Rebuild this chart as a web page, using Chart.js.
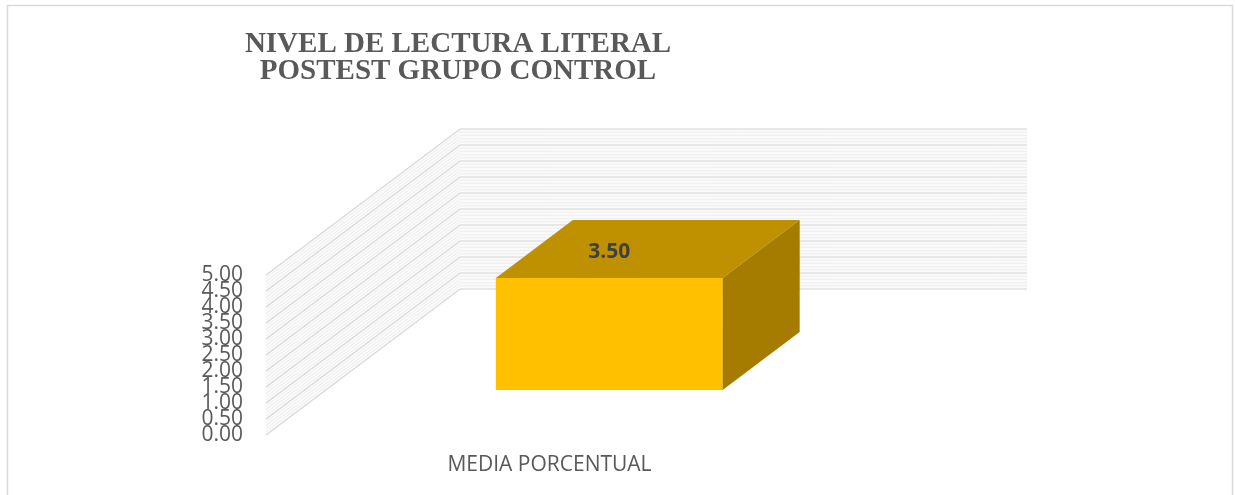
<!DOCTYPE html>
<html>
<head>
<meta charset="utf-8">
<script src="https://cdn.jsdelivr.net/npm/chart.js@4.4.1/dist/chart.umd.min.js"></script>
<style>
  html, body { margin: 0; padding: 0; background: #fff; }
  #wrap { position: relative; width: 1235px; height: 495px; }
</style>
</head>
<body>
<div id="wrap"><canvas id="chart" width="1235" height="495"></canvas></div>
<script>
// chart data
const titleLines = ['NIVEL DE LECTURA LITERAL', 'POSTEST GRUPO CONTROL'];
const categories = ['MEDIA PORCENTUAL'];
const values = [3.5];
const yTicks = [0, 0.5, 1, 1.5, 2, 2.5, 3, 3.5, 4, 4.5, 5];

// 3d look (depth of walls and where the bar sits in it)
const WALL_DX = 194, WALL_DY = -146;
const BAR_FRONT = 0.308, BAR_DEPTH = 0.397;
const GREY = '#595959';

const threeD = {
  id: 'threeD',
  beforeDraw(chart) {
    const ctx = chart.ctx;
    // outer border
    ctx.save();
    ctx.strokeStyle = '#d9d9d9';
    ctx.lineWidth = 1.5;
    ctx.strokeRect(7.5, 5.5, 1225, 500);
    // title
    ctx.fillStyle = GREY;
    ctx.font = 'bold 29px "Liberation Serif", "Times New Roman", serif';
    ctx.textAlign = 'center';
    ctx.textBaseline = 'alphabetic';
    ctx.fillText(titleLines[0], 458, 52);
    ctx.fillText(titleLines[1], 458, 79);
    ctx.restore();
  },
  beforeDatasetsDraw(chart) {
    const ctx = chart.ctx;
    const { left, right } = chart.chartArea;
    const ys = chart.scales.y;
    const y0 = ys.getPixelForValue(0), y5 = ys.getPixelForValue(5);
    ctx.save();
    // wall fill
    ctx.fillStyle = '#fafafa';
    ctx.beginPath();
    ctx.moveTo(left, y5);
    ctx.lineTo(left + WALL_DX, y5 + WALL_DY);
    ctx.lineTo(right + WALL_DX, y5 + WALL_DY);
    ctx.lineTo(right + WALL_DX, y0 + WALL_DY);
    ctx.lineTo(left + WALL_DX, y0 + WALL_DY);
    ctx.lineTo(left, y0);
    ctx.closePath();
    ctx.fill();
    // faint minor lines
    ctx.strokeStyle = '#ebebeb';
    ctx.lineWidth = 0.8;
    for (let v = 0; v <= 5.0001; v += 0.1) {
      const y = ys.getPixelForValue(v);
      ctx.beginPath();
      ctx.moveTo(left, y);
      ctx.lineTo(left + WALL_DX, y + WALL_DY);
      ctx.lineTo(right + WALL_DX, y + WALL_DY);
      ctx.stroke();
    }
    // major grid lines
    ctx.strokeStyle = '#d9d9d9';
    ctx.lineWidth = 1.2;
    yTicks.forEach(v => {
      const y = ys.getPixelForValue(v);
      ctx.beginPath();
      ctx.moveTo(left, y);
      ctx.lineTo(left + WALL_DX, y + WALL_DY);
      ctx.lineTo(right + WALL_DX, y + WALL_DY);
      ctx.stroke();
    });
    ctx.restore();
  },
  beforeDatasetDraw(chart) {
    chart.ctx.save();
    chart.ctx.translate(WALL_DX * BAR_FRONT, WALL_DY * BAR_FRONT);
  },
  afterDatasetDraw(chart, args) {
    const ctx = chart.ctx;
    ctx.restore();
    const fx = WALL_DX * BAR_FRONT, fy = WALL_DY * BAR_FRONT;
    const bx = WALL_DX * BAR_DEPTH, by = WALL_DY * BAR_DEPTH;
    args.meta.data.forEach((bar, i) => {
      const p = bar.getProps(['x', 'y', 'base', 'width'], true);
      const l = p.x - p.width / 2 + fx, r = p.x + p.width / 2 + fx;
      const t = p.y + fy, b = p.base + fy;
      ctx.save();
      // top face
      ctx.fillStyle = '#bf9000';
      ctx.beginPath();
      ctx.moveTo(l, t); ctx.lineTo(r, t);
      ctx.lineTo(r + bx, t + by); ctx.lineTo(l + bx, t + by);
      ctx.closePath(); ctx.fill();
      // side face
      ctx.fillStyle = '#a67c00';
      ctx.beginPath();
      ctx.moveTo(r, t); ctx.lineTo(r + bx, t + by);
      ctx.lineTo(r + bx, b + by); ctx.lineTo(r, b);
      ctx.closePath(); ctx.fill();
      // value label
      ctx.fillStyle = '#404040';
      ctx.font = 'bold 21px "Open Sans", sans-serif';
      ctx.textAlign = 'center';
      ctx.textBaseline = 'middle';
      ctx.fillText(values[i].toFixed(2), p.x + fx, t - 26);
      ctx.restore();
    });
  }
};

new Chart(document.getElementById('chart'), {
  type: 'bar',
  data: {
    labels: categories,
    datasets: [{
      data: values,
      backgroundColor: '#ffc000',
      borderWidth: 0,
      barPercentage: 0.4,
      categoryPercentage: 1
    }]
  },
  options: {
    responsive: false,
    animation: false,
    layout: { padding: { left: 201, right: 402, top: 275, bottom: 18 } },
    plugins: { legend: { display: false }, tooltip: { enabled: false } },
    scales: {
      x: {
        afterFit(s) { s.height = 42; },
        grid: { display: false, drawTicks: false },
        border: { display: false },
        ticks: { color: GREY, font: { family: 'Open Sans', size: 21 }, padding: 17 }
      },
      y: {
        min: 0, max: 5,
        afterBuildTicks(s) { s.ticks = yTicks.map(v => ({ value: v })); },
        afterFit(s) { s.width = 65; },
        grid: { display: false, drawTicks: false },
        border: { display: false },
        ticks: {
          color: GREY, padding: 23, autoSkip: false,
          font: { family: 'Open Sans', size: 21 },
          callback: v => Number(v).toFixed(2)
        }
      }
    }
  },
  plugins: [threeD]
});
</script>
</body>
</html>
